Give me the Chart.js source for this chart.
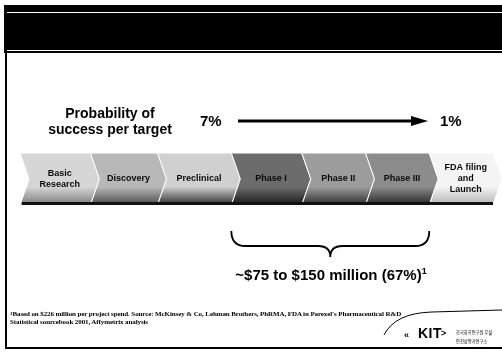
<!DOCTYPE html>
<html>
<head>
<meta charset="utf-8">
<script src="https://cdn.jsdelivr.net/npm/chart.js@4"></script>
<style>
body { margin: 0; background: #fff; }
#wrap { position: relative; width: 502px; height: 356px; overflow: hidden; }
canvas { position: absolute; left: 0; top: 0; }
.t { position: absolute; font-family: Arial, "Liberation Sans", sans-serif; font-weight: bold; color: #000; white-space: nowrap; }
.fn { position: absolute; font-family: "Liberation Serif", "DejaVu Serif", serif; font-size: 7px; line-height: 8px; color: #000; white-space: nowrap; }
</style>
</head>
<body>
<div id="wrap">
<canvas id="pipeline" width="502" height="356"></canvas>
<div class="t" id="probTitle" style="left:40px;top:105px;width:140px;text-align:center;font-size:14px;line-height:16px">Probability of<br>success per target</div>
<div class="t" id="probStart" style="left:200px;top:112px;font-size:15px;line-height:18px"></div>
<div class="t" id="probEnd" style="left:440px;top:112px;font-size:15px;line-height:18px"></div>
<div class="t" id="costText" style="left:181px;top:266px;width:300px;text-align:center;font-size:15px;line-height:18px"></div>
<div class="fn" style="left:10px;top:310px;font-weight:bold;letter-spacing:-0.1px"><span style="font-size:5px;vertical-align:top">1</span>Based on $226 million per project spend. Source: McKinsey &amp; Co, Lehman Brothers, PhRMA, FDA in Parexel's Pharmaceutical R&amp;D<br>Statistical sourcebook 2001, Affymetrix analysis</div>
<div class="t" style="left:418px;top:325px;font-size:14px;line-height:16px;letter-spacing:0.5px">KIT</div>
<div class="t" style="left:404px;top:330px;font-size:9px;line-height:10px">&#171;</div>
<div class="t" style="left:441px;top:328px;font-size:9px;line-height:10px">&gt;</div>
<div style="position:absolute;left:456px;top:327px;font-family:'Noto Sans CJK KR',sans-serif;font-size:5px;line-height:9px;color:#000;white-space:nowrap;transform:scaleX(0.85);transform-origin:left top">한국화학연구원 부설<br>안전성평가연구소</div>
</div>
<script>
// pipeline stages (multi-line labels) and their relative widths as drawn
const stageLabels = [
    ['Basic', 'Research'],
    ['Discovery'],
    ['Preclinical'],
    ['Phase I'],
    ['Phase II'],
    ['Phase III'],
    ['FDA filing', 'and', 'Launch']
];
const stageWeights = [1.05, 1.0, 1.1, 1.05, 0.95, 0.95, 0.95];

// probability of success per target: start -> end
const successProbability = [7, 1];

// clinical cost range (million $) and share of total spend
const clinicalCost = [75, 150];
const clinicalShare = 67;
const clinicalStages = ['Phase I', 'Phase III']; // brace spans these

// fill colours, top and bottom of each chevron
const stageTop = ['#d6d6d6', '#b8b8b8', '#d0d0d0', '#6c6c6c', '#9c9c9c', '#8c8c8c', '#f4f4f4'];
const stageBottom = ['#7c7c7c', '#4a4a4a', '#2c2c2c', '#181818', '#2e2e2e', '#262626', '#b4b4b4'];

document.getElementById('probStart').textContent = successProbability[0] + '%';
document.getElementById('probEnd').textContent = successProbability[1] + '%';
document.getElementById('costText').innerHTML = '~$' + clinicalCost[0] + ' to $' + clinicalCost[1] +
    ' million (' + clinicalShare + '%)<span style="font-size:9px;position:relative;top:-6px">1</span>';

const total = stageWeights.reduce((a, b) => a + b, 0);
const notch = 9;

const slidePlugin = {
    id: 'slide',
    beforeDraw(chart) {
        const ctx = chart.ctx;
        ctx.save();
        // black header band
        ctx.fillStyle = '#000';
        ctx.fillRect(4, 5, 498, 48);
        ctx.fillStyle = '#fff';
        ctx.fillRect(7, 12, 495, 1);
        ctx.fillRect(7, 50, 495, 1);
        // slide border
        ctx.fillStyle = '#000';
        ctx.fillRect(5, 5, 2, 344);
        ctx.fillRect(5, 347, 497, 2);
        ctx.restore();
    },
    afterDatasetsDraw(chart) {
        const ctx = chart.ctx;
        ctx.save();
        const els = chart.data.datasets.map((ds, i) =>
            chart.getDatasetMeta(i).data[0].getProps(['x', 'y', 'base', 'height'], true));

        // chevrons
        els.forEach((el, i) => {
            const x0 = el.base, x1 = el.x;
            const top = el.y - el.height / 2, bot = el.y + el.height / 2;
            const g = ctx.createLinearGradient(0, top, 0, bot);
            g.addColorStop(0, stageTop[i]);
            g.addColorStop(0.65, stageTop[i]);
            g.addColorStop(1, stageBottom[i]);
            ctx.beginPath();
            ctx.moveTo(x0, top);
            ctx.lineTo(x1, top);
            ctx.lineTo(x1 + notch, el.y);
            ctx.lineTo(x1, bot);
            ctx.lineTo(x0, bot);
            ctx.lineTo(x0 + notch, el.y);
            ctx.closePath();
            ctx.fillStyle = g;
            ctx.fill();
            ctx.strokeStyle = '#fff';
            ctx.lineWidth = 1;
            ctx.stroke();
        });
        // dark shadow along the bottom of the band
        const first = els[0], last = els[els.length - 1];
        ctx.fillStyle = '#111';
        ctx.fillRect(first.base + 2, first.y + first.height / 2 - 3, last.x - first.base - 2, 3);

        // stage labels
        ctx.font = 'bold 9px Arial, "Liberation Sans", sans-serif';
        ctx.textAlign = 'center';
        ctx.textBaseline = 'middle';
        els.forEach((el, i) => {
            const lines = stageLabels[i];
            const cx = (el.base + el.x) / 2 + notch / 2;
            const y0 = el.y - (lines.length - 1) * 11 / 2;
            ctx.fillStyle = '#0a0a0a';
            lines.forEach((ln, k) => ctx.fillText(ln, cx, y0 + k * 11));
        });

        // brace under the clinical phases
        const flat = stageLabels.map(l => l.join(' '));
        const a = els[flat.indexOf(clinicalStages[0])].base;
        const b = els[flat.indexOf(clinicalStages[1])].x;
        const cx = (a + b) / 2, y0 = 231, ym = 246, yt = 257;
        ctx.beginPath();
        ctx.moveTo(a, y0);
        ctx.quadraticCurveTo(a, ym, a + 14, ym);
        ctx.lineTo(cx - 12, ym);
        ctx.quadraticCurveTo(cx, ym, cx, yt);
        ctx.quadraticCurveTo(cx, ym, cx + 12, ym);
        ctx.lineTo(b - 14, ym);
        ctx.quadraticCurveTo(b, ym, b, y0);
        ctx.strokeStyle = '#000';
        ctx.lineWidth = 1.8;
        ctx.stroke();

        // probability arrow
        ctx.fillStyle = '#000';
        ctx.fillRect(238, 119.5, 175, 3);
        ctx.beginPath();
        ctx.moveTo(411, 116);
        ctx.lineTo(428, 121);
        ctx.lineTo(411, 126);
        ctx.closePath();
        ctx.fill();

        // logo swoosh
        ctx.beginPath();
        ctx.moveTo(384, 335);
        ctx.quadraticCurveTo(395, 313, 432, 312);
        ctx.lineTo(502, 310);
        ctx.lineWidth = 1;
        ctx.stroke();
        ctx.restore();
    }
};

new Chart(document.getElementById('pipeline'), {
    type: 'bar',
    data: {
        labels: ['Pipeline'],
        datasets: stageLabels.map((lines, i) => ({
            label: lines.join(' '),
            data: [stageWeights[i]],
            backgroundColor: 'rgba(0,0,0,0)',
            borderWidth: 0,
            barPercentage: 1,
            categoryPercentage: 1
        }))
    },
    options: {
        indexAxis: 'y',
        responsive: false,
        animation: false,
        layout: { padding: { left: 20, right: 9, top: 153, bottom: 151 } },
        scales: {
            x: { stacked: true, display: false, min: 0, max: total },
            y: { stacked: true, display: false }
        },
        plugins: {
            legend: { display: false },
            tooltip: { enabled: false }
        }
    },
    plugins: [slidePlugin]
});
</script>
</body>
</html>
